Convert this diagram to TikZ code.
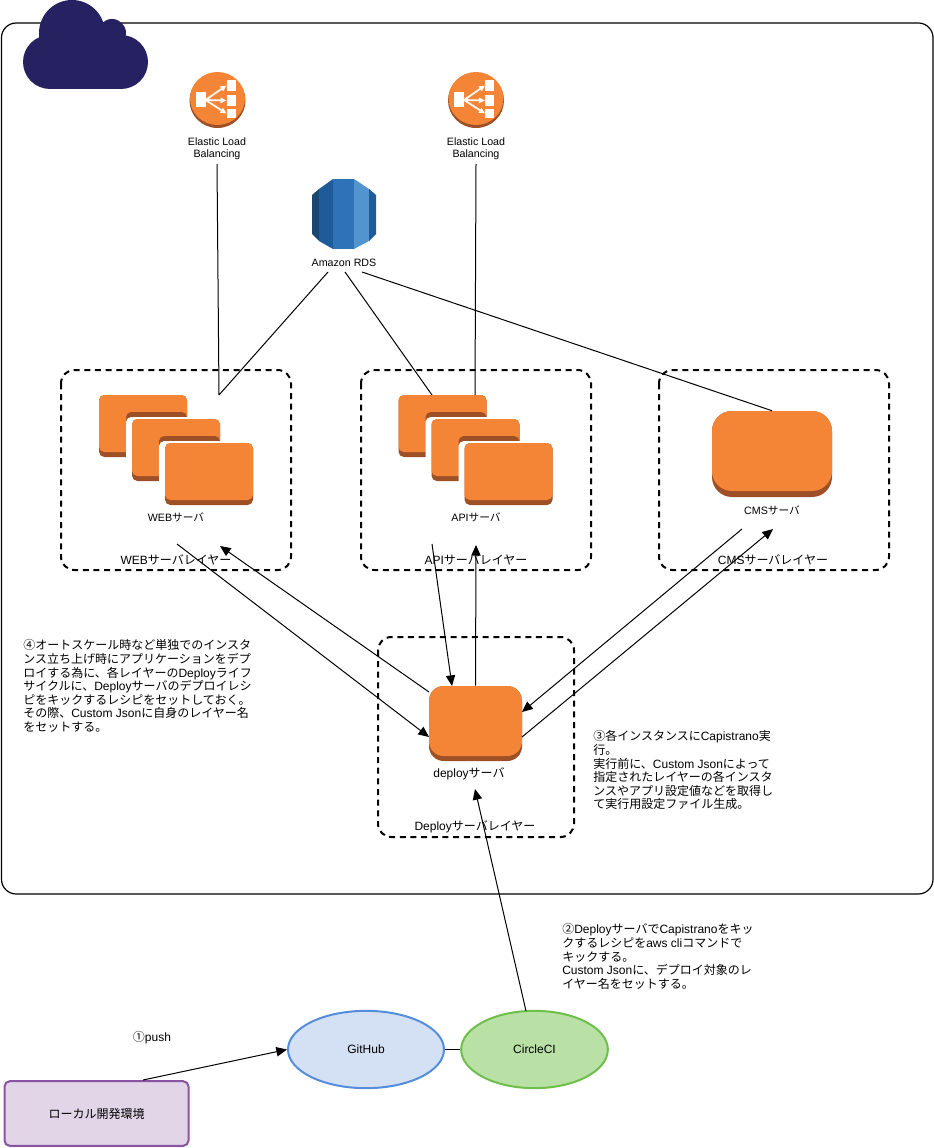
\documentclass[tikz,border=0pt]{standalone}
\usepackage{fontspec}
\setmainfont{Liberation Sans}
\newfontfamily\jpfont{Noto Sans CJK JP}
\newcommand{\jp}[1]{{\jpfont #1}}
\usetikzlibrary{arrows.meta,shapes.geometric}
\definecolor{srvbody}{HTML}{F58536}
\definecolor{srvdark}{HTML}{9D5025}
\definecolor{cloudblue}{HTML}{262261}
\definecolor{rdsa}{RGB}{26,71,111}
\definecolor{rdsb}{RGB}{32,91,153}
\definecolor{rdsc}{RGB}{46,115,184}
\definecolor{rdsd}{RGB}{82,148,207}
\definecolor{localfill}{RGB}{225,213,231}
\definecolor{localline}{RGB}{138,84,163}
\definecolor{gitfill}{RGB}{212,225,245}
\definecolor{gitline}{RGB}{84,141,220}
\definecolor{circfill}{RGB}{185,224,165}
\definecolor{circline}{RGB}{110,190,75}
\tikzset{
	layerbox/.style={draw, line width=1.5pt, dashed, dash pattern=on 4.5pt off 3.5pt, rounded corners=10pt},
	lbl/.style={inner sep=0pt, align=center},
	smalllbl/.style={lbl, font=\fontsize{8}{9.2}\selectfont},
	note/.style={inner sep=0pt, align=left, anchor=north west},
	link/.style={draw, line width=.75pt},
	arr/.style={link, -{Triangle[length=8pt,width=7pt]}},
	flow/.style={draw, line width=1.5pt, minimum height=58pt},
	pics/elbicon/.style={code={
		\fill[srvdark] (0,.5) ellipse (28 and 27.5);
		\fill[srvbody] (0,-1.5) ellipse (27.5 and 26.5);
		\fill[white] (-22,-8) rectangle (-12,7);
		\foreach \yy/\hh in {-20/11,-5/11,9/9}{
			\fill[white] (9,\yy) rectangle (18,\yy+\hh);
			\draw[white, line width=1.3pt, -{Triangle[length=4.5pt,width=4pt]}] (-12,0) -- (9,\yy+\hh/2);
		}
	}},
	pics/srvstack/.style={code={
		\foreach \dd in {0,1,2}{
			\begin{scope}[shift={(33*\dd,24*\dd)}]
				\fill[srvdark, rounded corners=4pt] (0,0) rectangle (88,62);
				\fill[srvbody, rounded corners=4pt] (0,0) rectangle (88,57);
				\ifnum\dd<2
					\fill[srvdark, rounded corners=4pt] (27,17) -- (88,17) -- (88,30) -- (27,30) -- cycle;
					\fill[white, rounded corners=4pt] (27,22) rectangle (96,70);
				\fi
			\end{scope}
		}
	}}
}
\begin{document}
\begin{tikzpicture}[x=.75pt, y=-.75pt, font=\fontsize{9}{10.2}\selectfont, line join=round]
	\useasboundingbox (0,0) rectangle (934,1148);
	% outer frame and cloud
	\draw[line width=.9pt, rounded corners=11pt] (1.5,23) rectangle (933,894);
	\foreach \cx/\cy/\cr in {72/33/33,112/33/14,50/62/27,121/62/27}
		\fill[cloudblue] (\cx,\cy) circle (\cr);
	\fill[cloudblue] (50,50) rectangle (121,89);
	% layers
	\draw[layerbox] (61,370) rectangle (291,570);
	\draw[layerbox] (361,370) rectangle (591,570);
	\draw[layerbox] (659,370) rectangle (889,570);
	\draw[layerbox] (378,637) rectangle (574,837);
	% icons
	\pic at (217.5,100) {elbicon};
	\pic at (476,100) {elbicon};
	\fill[rdsa] (312,195) -- (319,189) -- (319,241) -- (312,234) -- cycle;
	\fill[rdsb] (319,189) -- (333,179) -- (333,249) -- (319,241) -- cycle;
	\fill[rdsc] (333,179) rectangle (354,249);
	\fill[rdsd] (354,179) -- (369,189) -- (369,241) -- (354,249) -- cycle;
	\fill[rdsb] (369,189) -- (376,195) -- (376,234) -- (369,241) -- cycle;
	\pic at (99,395) {srvstack};
	\pic at (398.5,395) {srvstack};
	\fill[srvdark, rounded corners=15pt] (712,411) rectangle (832,497);
	\node[fill=srvbody, rounded corners=15pt, minimum width=90pt, minimum height=60pt, inner sep=0pt] (cmssrv) at (772,451) {};
	\fill[srvdark, rounded corners=11pt] (429,686) rectangle (522,761);
	\node[fill=srvbody, rounded corners=11pt, minimum width=69.75pt, minimum height=52.5pt, inner sep=0pt] (deploysrv) at (475.5,721) {};
	% labels
	\node[smalllbl] (elbweb) at (217,148.5) {Elastic Load\\Balancing};
	\node[smalllbl] (elbapi) at (476,148.5) {Elastic Load\\Balancing};
	\node[smalllbl] (rds) at (344,263) {Amazon RDS};
	\node[smalllbl] (weblbl) at (176,517) {WEB\jp{サーバ}};
	\node[smalllbl] (apilbl) at (476,517) {API\jp{サーバ}};
	\node[smalllbl] (cmslbl) at (772,510) {CMS\jp{サーバ}};
	\node[lbl] (deploylbl) at (469,774) {deploy\jp{サーバ}};
	\node[lbl] (weblayer) at (176,560) {WEB\jp{サーバレイヤー}};
	\node[lbl] (apilayer) at (476,560) {API\jp{サーバレイヤー}};
	\node[lbl] (cmslayer) at (773,560) {CMS\jp{サーバレイヤー}};
	\node[lbl] (deploylayer) at (475,827) {Deploy\jp{サーバレイヤー}};
	\node[lbl] (pushlbl) at (152,1038) {\jp{①}push};
	\node[note] (note4) at (23,639.5) {\jp{④オートスケール時など単独でのインスタ}\\\jp{ンス立ち上げ時にアプリケーションをデプ}\\\jp{ロイする為に、各レイヤーの}Deploy\jp{ライフ}\\\jp{サイクルに、}Deploy\jp{サーバのデプロイレシ}\\\jp{ピをキックするレシピをセットしておく。}\\\jp{その際、}Custom Json\jp{に自身のレイヤー名}\\\jp{をセットする。}};
	\node[note] (note3) at (593,730.5) {\jp{③各インスタンスに}Capistrano\jp{実}\\\jp{行。}\\\jp{実行前に、}Custom Json\jp{によって}\\\jp{指定されたレイヤーの各インスタ}\\\jp{ンスやアプリ設定値などを取得し}\\\jp{て実行用設定ファイル生成。}};
	\node[note] (note2) at (562,923.5) {\jp{②}Deploy\jp{サーバで}Capistrano\jp{をキッ}\\\jp{クするレシピを}aws cli\jp{コマンドで}\\\jp{キックする。}\\Custom Json\jp{に、デプロイ対象のレ}\\\jp{イヤー名をセットする。}};
	% bottom row
	\node[flow, rounded corners=4pt, fill=localfill, draw=localline, minimum width=138pt, minimum height=48.5pt] (local) at (96.5,1113.5) {\jp{ローカル開発環境}};
	\node[flow, ellipse, fill=gitfill, draw=gitline, minimum width=117pt] (github) at (366,1049.5) {GitHub};
	\node[flow, ellipse, fill=circfill, draw=circline, minimum width=110pt] (circleci) at (534.5,1049.5) {CircleCI};
	% ports
	\coordinate (webtop) at (219,395);
	\coordinate (apitop) at (475,395);
	\coordinate (apileft) at (432,395);
	\coordinate (rdsleft) at (328,272);
	\coordinate (rdsmid) at (345,272);
	\coordinate (rdsright) at (362,272);
	\coordinate (elbwebout) at (217,164);
	\coordinate (elbapiout) at (476,164);
	\coordinate (webout) at (177,544);
	\coordinate (webin) at (220,546);
	\coordinate (apiout) at (432,544);
	\coordinate (apiin) at (476,545);
	\coordinate (cmsout) at (742,529);
	\coordinate (cmsin) at (773,529);
	\coordinate (depwa) at (429,692);
	\coordinate (depwb) at (429,737);
	\coordinate (depn) at (452,686);
	\coordinate (depea) at (522,712);
	\coordinate (depeb) at (522,737);
	\coordinate (deps) at (475,789);
	\coordinate (circtop) at (526,1011);
	\coordinate (localtop) at (143,1080);
	% connectors
	\draw[link] (elbwebout) -- (webtop) -- (rdsleft);
	\draw[link] (elbapiout) -- (apitop);
	\draw[link] (rdsmid) -- (apileft);
	\draw[link] (rdsright) -- (cmssrv.north);
	\draw[arr] (webout) -- (depwb);
	\draw[arr] (depwa) -- (webin);
	\draw[arr] (apiout) -- (depn);
	\draw[arr] (deploysrv.north) -- (apiin);
	\draw[arr] (cmsout) -- (depea);
	\draw[arr] (depeb) -- (cmsin);
	\draw[arr] (circtop) -- (deps);
	\draw[arr] (localtop) -- (github.west);
	\draw[link] (github) -- (circleci);
\end{tikzpicture}
\end{document}
